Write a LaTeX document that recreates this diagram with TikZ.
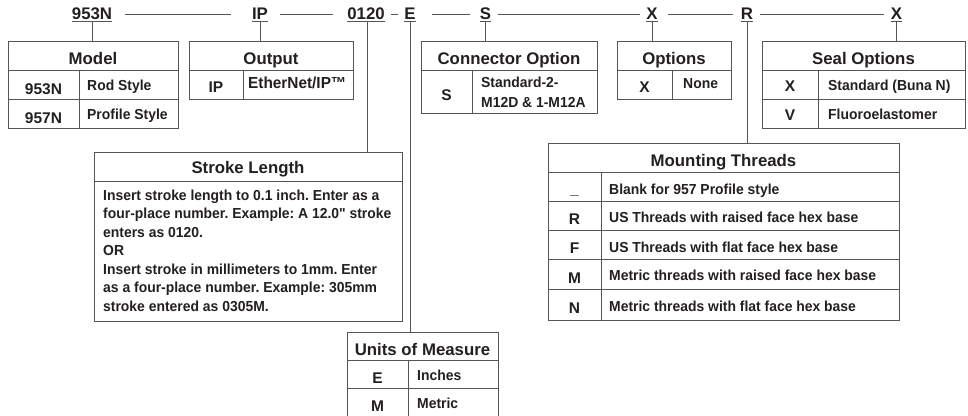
\documentclass[tikz,border=0pt]{standalone}
\usepackage{fontspec}
\setmainfont{Liberation Sans}
\newfontfamily\descfamily{Liberation Sans}[FakeStretch=0.96]
\newcommand{\hdrf}{\fontsize{16.8}{18}\selectfont\bfseries}
\newcommand{\keyf}{\fontsize{15.5}{17}\selectfont\bfseries}
\newcommand{\descf}{\descfamily\fontsize{14.5}{17}\selectfont\bfseries\frenchspacing}
\definecolor{ink}{RGB}{35,31,32}
\definecolor{linegray}{RGB}{85,85,85}
\begin{document}
\begin{tikzpicture}[x=1pt,y=-1pt,
  conn/.style={draw=linegray, line width=1pt},
  tbl/.style={draw=linegray, line width=1pt, inner sep=0, outer sep=0, anchor=north west},
  code/.style={font=\hdrf, inner sep=0, anchor=base, text=ink},
  hdr/.style={font=\hdrf, inner sep=0, anchor=base, text=ink},
  key/.style={font=\keyf, inner sep=0, anchor=base, text=ink},
  desc/.style={font=\descf, inner sep=0, anchor=base west, text=ink}]
\useasboundingbox (0,0) rectangle (968,415);

% ---- code string ----
\node[code] (k953) at (92,19) {953N};
\node[code] (kIP) at (260,19) {IP};
\node[code] (k0120) at (366,19) {0120};
\node[code] (kE) at (410,19) {E};
\node[code] (kS) at (485.5,19) {S};
\node[code] (kX1) at (652,19) {X};
\node[code] (kR) at (747,19) {R};
\node[code] (kX2) at (896.5,19) {X};
\foreach \n in {k953,kIP,k0120,kE,kS,kX1,kR,kX2}
  \draw[conn] ([yshift=-2.8pt]\n.base west) -- ([yshift=-2.8pt]\n.base east);

\draw[conn, shorten <=33pt, shorten >=29pt] ([yshift=4.5pt]k953.base) -- ([yshift=4.5pt]kIP.base);
\draw[conn, shorten <=20pt, shorten >=33pt] ([yshift=4.5pt]kIP.base) -- ([yshift=4.5pt]k0120.base);
\draw[conn, shorten <=25pt, shorten >=12pt] ([yshift=4.5pt]k0120.base) -- ([yshift=4.5pt]kE.base);
\draw[conn, shorten <=22pt, shorten >=15.5pt] ([yshift=4.5pt]kE.base) -- ([yshift=4.5pt]kS.base);
\draw[conn, shorten <=12.5pt, shorten >=12pt] ([yshift=4.5pt]kS.base) -- ([yshift=4.5pt]kX1.base);
\draw[conn, shorten <=16pt, shorten >=14pt] ([yshift=4.5pt]kX1.base) -- ([yshift=4.5pt]kR.base);
\draw[conn, shorten <=13pt, shorten >=12.5pt] ([yshift=4.5pt]kR.base) -- ([yshift=4.5pt]kX2.base);

% ---- tables ----
\node[tbl, minimum width=170pt, minimum height=87pt] (model) at (8,41) {};
\node[tbl, minimum width=164pt, minimum height=58pt] (output) at (189,41) {};
\node[tbl, minimum width=176pt, minimum height=72pt] (connopt) at (421,41) {};
\node[tbl, minimum width=114pt, minimum height=58pt] (options) at (617,41) {};
\node[tbl, minimum width=203pt, minimum height=87pt] (seal) at (762,41) {};
\node[tbl, minimum width=308pt, minimum height=169pt] (stroke) at (94,152) {};
\node[tbl, minimum width=351pt, minimum height=177pt] (mount) at (548,143) {};
\node[tbl, minimum width=151pt, minimum height=90pt] (units) at (347,332) {};

% connectors from codes to tables
\draw[conn] ([yshift=-2.8pt]k953.base) -- (k953.base |- model.north);
\draw[conn] ([yshift=-2.8pt]kIP.base) -- (kIP.base |- output.north);
\draw[conn] ([xshift=1pt,yshift=-2.8pt]k0120.base) -- ([xshift=1pt]k0120.base |- stroke.north);
\draw[conn] ([yshift=-2.8pt]kE.base) -- (kE.base |- units.north);
\draw[conn] ([yshift=-2.8pt]kS.base) -- (kS.base |- connopt.north);
\draw[conn] ([yshift=-2.8pt]kX1.base) -- (kX1.base |- options.north);
\draw[conn] ([yshift=-2.8pt]kR.base) -- (kR.base |- mount.north);
\draw[conn] ([yshift=-2.8pt]kX2.base) -- (kX2.base |- seal.north);

% grids
\draw[conn] (8,70) -- (178,70) (8,99) -- (178,99) (79,70) -- (79,128);
\draw[conn] (189,70) -- (353,70) (243,70) -- (243,99);
\draw[conn] (421,70) -- (597,70) (472,70) -- (472,113);
\draw[conn] (617,70) -- (731,70) (672,70) -- (672,99);
\draw[conn] (762,70) -- (965,70) (762,99) -- (965,99) (818,70) -- (818,128);
\draw[conn] (94,181) -- (402,181);
\draw[conn] (548,172) -- (899,172) (548,201) -- (899,201) (548,230) -- (899,230)
            (548,259) -- (899,259) (548,289) -- (899,289) (601,172) -- (601,320);
\draw[conn] (347,360) -- (498,360) (347,388) -- (498,388) (408,360) -- (408,422);

% Model
\node[hdr] (hModel) at (93,64) {Model};
\node[key] (m1k) at (43.5,94.5) {953N};
\node[desc] (m1d) at (87,90) {Rod Style};
\node[key] (m2k) at (43.5,123.5) {957N};
\node[desc] (m2d) at (87,119.5) {Profile Style};
% Output
\node[hdr] (hOut) at (271,64) {Output};
\node[key] (o1k) at (216,92) {IP};
\node[desc, font=\descfamily\fontsize{16}{17}\selectfont\bfseries] (o1d) at (248,88.5) {EtherNet/IP™};
% Connector
\node[hdr] (hConn) at (509,64) {Connector Option};
\node[key] (c1k) at (446.5,100) {S};
\node[desc] (c1d) at (481,87.3) {Standard-2-};
\node[desc] (c1e) at (481,107.3) {M12D \& 1-M12A};
% Options
\node[hdr] (hOpt) at (674,64) {Options};
\node[key] (p1k) at (644.5,92.5) {X};
\node[desc] (p1d) at (683,88.5) {None};
% Seal
\node[hdr] (hSeal) at (863.5,64) {Seal Options};
\node[key] (s1k) at (790,91.5) {X};
\node[desc] (s1d) at (828,90) {Standard (Buna N)};
\node[key] (s2k) at (790,120) {V};
\node[desc] (s2d) at (828,119.5) {Fluoroelastomer};
% Stroke
\node[hdr] (hStroke) at (248,173.3) {Stroke Length};
\node[desc] (t1) at (103,200) {Insert stroke length to 0.1 inch. Enter as a};
\node[desc] (t2) at (103,218.5) {four-place number. Example: A 12.0" stroke};
\node[desc] (t3) at (103,237) {enters as 0120.};
\node[desc] (t4) at (103,255.5) {OR};
\node[desc] (t5) at (103,274) {Insert stroke in millimeters to 1mm. Enter};
\node[desc] (t6) at (103,292.5) {as a four-place number. Example: 305mm};
\node[desc] (t7) at (103,311) {stroke entered as 0305M.};
% Mounting
\node[hdr] (hMount) at (723.5,166.5) {Mounting Threads};
\node[key] (r0k) at (574.5,194) {\_};
\node[desc] (r0d) at (609,194) {Blank for 957 Profile style};
\node[key] (r1k) at (574.5,224) {R};
\node[desc] (r1d) at (609,222) {US Threads with raised face hex base};
\node[key] (r2k) at (574.5,253.5) {F};
\node[desc] (r2d) at (609,252.5) {US Threads with flat face hex base};
\node[key] (r3k) at (574.5,283) {M};
\node[desc] (r3d) at (609,280.5) {Metric threads with raised face hex base};
\node[key] (r4k) at (574.5,313) {N};
\node[desc] (r4d) at (609,311.5) {Metric threads with flat face hex base};
% Units
\node[hdr] (hUnits) at (422.5,355) {Units of Measure};
\node[key] (u1k) at (377.5,383.3) {E};
\node[desc] (u1d) at (417,380) {Inches};
\node[key] (u2k) at (377.5,411.7) {M};
\node[desc] (u2d) at (417,408.3) {Metric};
\end{tikzpicture}
\end{document}
